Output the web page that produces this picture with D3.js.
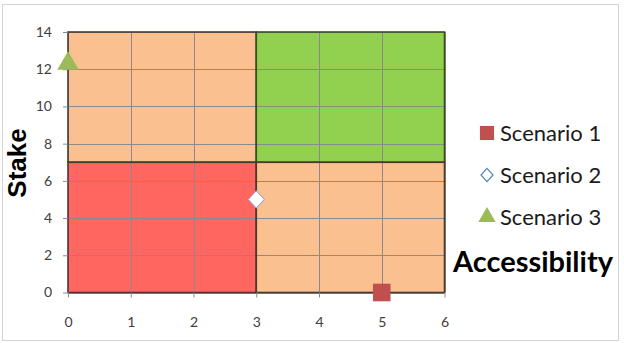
<!DOCTYPE html>
<html lang="en">
<head>
    <meta charset="UTF-8">
    <title>Stake vs Accessibility</title>
    <script src="https://d3js.org/d3.v7.min.js"></script>
    <style>
        body { margin: 0; background: #fff; }
        svg { display: block; }
        .tick text { font-family: Lato, "Open Sans", sans-serif; fill: #404040; }
    </style>
</head>
<body>
    <div id="chart"></div>
    <script>
        const width = 624;
        const height = 343;

        // data
        const xTicks = [0, 1, 2, 3, 4, 5, 6];
        const yTicks = [0, 2, 4, 6, 8, 10, 12, 14];
        const zones = ["low", "topLeft", "topRight", "bottomRight"];
        const zoneX = [[0, 3], [0, 3], [3, 6], [3, 6]];
        const zoneY = [[0, 7], [7, 14], [7, 14], [0, 7]];
        const scenarios = ["Scenario 1", "Scenario 2", "Scenario 3"];
        const accessibility = [5, 3, 0];
        const stake = [0, 5, 12.3];

        const zoneFill = { low: "#ff6660", topLeft: "#fac090", topRight: "#92d050", bottomRight: "#fac090" };
        const zoneStroke = { low: "#5a3030", topLeft: "#4a3a30", topRight: "#3a5020", bottomRight: "#4a3a30" };

        const margin = { left: 68, right: 180, top: 32, bottom: 51 };

        const svg = d3.select("#chart")
                      .append("svg")
                      .attr("width", width)
                      .attr("height", height);

        // outer frame
        svg.append("rect")
           .attr("x", 2.5).attr("y", 4.5)
           .attr("width", 616).attr("height", 336)
           .attr("fill", "#fff")
           .attr("stroke", "#d4d4d4");

        const x = d3.scaleLinear().domain([0, 6]).range([margin.left, width - margin.right + 0.5]);
        const y = d3.scaleLinear().domain([0, 14]).range([height - margin.bottom + 0.5, margin.top]);

        // quadrants
        svg.append("g")
           .selectAll("rect")
           .data(zones)
           .enter()
           .append("rect")
           .attr("x", (d, i) => x(zoneX[i][0]))
           .attr("y", (d, i) => y(zoneY[i][1]))
           .attr("width", (d, i) => x(zoneX[i][1]) - x(zoneX[i][0]))
           .attr("height", (d, i) => y(zoneY[i][0]) - y(zoneY[i][1]))
           .attr("fill", d => zoneFill[d]);

        // gridlines
        const grid = svg.append("g").attr("stroke", "#8a8a8a").attr("stroke-width", 1);
        grid.selectAll("line.v")
            .data(xTicks)
            .enter().append("line")
            .attr("x1", d => Math.round(x(d)) + 0.5).attr("x2", d => Math.round(x(d)) + 0.5)
            .attr("y1", y(0)).attr("y2", y(14));
        grid.selectAll("line.h")
            .data(yTicks)
            .enter().append("line")
            .attr("x1", x(0)).attr("x2", x(6))
            .attr("y1", d => Math.round(y(d)) + 0.5).attr("y2", d => Math.round(y(d)) + 0.5);

        // quadrant borders
        svg.append("g")
           .selectAll("rect")
           .data(zones)
           .enter()
           .append("rect")
           .attr("x", (d, i) => x(zoneX[i][0]))
           .attr("y", (d, i) => y(zoneY[i][1]))
           .attr("width", (d, i) => x(zoneX[i][1]) - x(zoneX[i][0]))
           .attr("height", (d, i) => y(zoneY[i][0]) - y(zoneY[i][1]))
           .attr("fill", "none")
           .attr("stroke", d => zoneStroke[d])
           .attr("stroke-width", 1.6);

        // axes
        const xAxis = svg.append("g")
           .attr("transform", `translate(0,${y(0)})`)
           .call(d3.axisBottom(x).tickValues(xTicks).tickFormat(d3.format("d")).tickSize(5).tickPadding(20));
        const yAxis = svg.append("g")
           .attr("transform", `translate(${x(0)},0)`)
           .call(d3.axisLeft(y).tickValues(yTicks).tickFormat(d3.format("d")).tickSize(5).tickPadding(11));
        [xAxis, yAxis].forEach(a => {
            a.select(".domain").remove();
            a.selectAll(".tick line").attr("stroke", "#8a8a8a");
            a.selectAll(".tick text").style("font-size", "14px");
        });

        // diamond a bit wider than d3's own
        const wideDiamond = {
            draw(ctx, size) {
                const r = Math.sqrt(size) / 2;
                ctx.moveTo(0, -r * 1.1);
                ctx.lineTo(r, 0);
                ctx.lineTo(0, r * 1.1);
                ctx.lineTo(-r, 0);
                ctx.closePath();
            }
        };

        // markers
        const symbolOf = [d3.symbolSquare, wideDiamond, d3.symbolTriangle];
        const fillOf = ["#c0504d", "#ffffff", "#9bbb59"];
        const strokeOf = ["none", "#7f9fc9", "none"];
        const sizeOf = [310, 256, 200];

        svg.append("g")
           .selectAll("path")
           .data(scenarios)
           .enter()
           .append("path")
           .attr("transform", (d, i) => `translate(${x(accessibility[i])},${y(stake[i])})`)
           .attr("d", (d, i) => d3.symbol(symbolOf[i], sizeOf[i])())
           .attr("fill", (d, i) => fillOf[i])
           .attr("stroke", (d, i) => strokeOf[i]);

        // legend
        const legend = svg.append("g").attr("transform", "translate(487,133)");
        const rows = legend.selectAll("g")
           .data(scenarios)
           .enter()
           .append("g")
           .attr("transform", (d, i) => `translate(0,${i * 42})`);
        rows.append("path")
            .attr("d", (d, i) => d3.symbol(symbolOf[i], [200, 144, 130][i])())
            .attr("fill", (d, i) => i === 1 ? "#fff" : fillOf[i])
            .attr("stroke", (d, i) => i === 1 ? "#4f81bd" : "none")
            .attr("stroke-width", 1.2);
        rows.append("text")
            .attr("x", 13)
            .attr("dy", "0.35em")
            .style("font-family", "Lato, 'Open Sans', sans-serif")
            .style("font-size", "22px")
            .attr("fill", "#1a1a1a")
            .text(d => d);

        // axis titles
        svg.append("text")
           .attr("x", 533).attr("y", 262)
           .attr("dy", "0.35em")
           .attr("text-anchor", "middle")
           .style("font-family", "Lato, 'Open Sans', sans-serif")
           .style("font-weight", "bold")
           .style("font-size", "29px")
           .attr("fill", "#000")
           .text("Accessibility");

        svg.append("text")
           .attr("transform", "translate(26,163) rotate(-90)")
           .attr("text-anchor", "middle")
           .style("font-family", "'Liberation Sans', Arial, sans-serif")
           .style("font-weight", "bold")
           .style("font-size", "26px")
           .attr("fill", "#000")
           .text("Stake");
    </script>
</body>
</html>
